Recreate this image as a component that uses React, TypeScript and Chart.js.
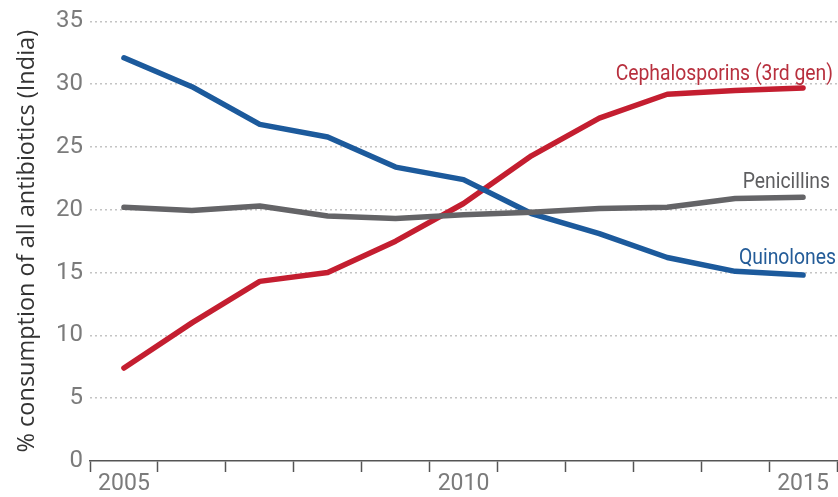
import { useEffect, useRef } from "react";
import { Chart, registerables } from "chart.js";

Chart.register(...registerables);

const years = ["2005", "2006", "2007", "2008", "2009", "2010", "2011", "2012", "2013", "2014", "2015"];
const labeledYears = ["2005", "2010", "2015"];
const quinolones = [32.1, 29.8, 26.8, 25.8, 23.4, 22.4, 19.7, 18.1, 16.2, 15.1, 14.8];
const cephalosporins = [7.4, 11.0, 14.3, 15.0, 17.5, 20.5, 24.3, 27.3, 29.2, 29.5, 29.7];
const penicillins = [20.2, 19.95, 20.3, 19.5, 19.3, 19.6, 19.8, 20.1, 20.2, 20.9, 21.0];
const seriesNames = ["Quinolones", "Cephalosporins (3rd gen)", "Penicillins"];
const yMin = 0;
const yMax = 35;
const yStep = 5;
const yTitle = "% consumption of all antibiotics (India)";

const BLUE = "#1c5a9c";
const RED = "#c41e30";
const GRAY = "#646467";
const LABEL_FONT = "'Roboto', sans-serif";

const endLabels = {
  id: "endLabels",
  afterDatasetsDraw(chart: any) {
    const ctx = chart.ctx;
    const x = chart.scales.x;
    const y = chart.scales.y;
    const lastIdx = years.length - 1;
    const px = x.getPixelForValue(lastIdx);
    const items = [
      { text: seriesNames[1], color: "#b8303e", v: cephalosporins[lastIdx], dy: -8, dx: 30 },
      { text: seriesNames[2], color: "#5e5e60", v: penicillins[lastIdx], dy: -9, dx: 27 },
      { text: seriesNames[0], color: "#245c98", v: quinolones[lastIdx], dy: -11, dx: 33 },
    ];
    const sx = 0.9;
    ctx.save();
    ctx.font = `21.5px ${LABEL_FONT}`;
    ctx.textAlign = "right";
    ctx.textBaseline = "alphabetic";
    for (const it of items) {
      ctx.save();
      ctx.translate(px + it.dx, y.getPixelForValue(it.v) + it.dy);
      ctx.scale(sx, 1);
      ctx.fillStyle = it.color;
      ctx.fillText(it.text, 0, 0);
      ctx.restore();
    }
    ctx.restore();
  },
};

export default function App() {
  const ref = useRef<HTMLCanvasElement | null>(null);
  useEffect(() => {
    document.body.style.margin = "0";
    const canvas = ref.current;
    if (!canvas) return;
    const line = (label: string, data: number[], color: string) => ({
      label,
      data,
      borderColor: color,
      backgroundColor: color,
      borderWidth: 5.5,
      pointRadius: 0,
      tension: 0,
      borderCapStyle: "round" as const,
      borderJoinStyle: "round" as const,
    });
    const chart = new Chart(canvas, {
      type: "line",
      data: {
        labels: years,
        datasets: [
          line(seriesNames[2], penicillins, GRAY),
          line(seriesNames[0], quinolones, BLUE),
          line(seriesNames[1], cephalosporins, RED),
        ],
      },
      options: {
        animation: false,
        responsive: false,
        maintainAspectRatio: false,
        layout: { padding: { top: 20, right: 1, left: 0, bottom: 0 } },
        plugins: { legend: { display: false }, tooltip: { enabled: false } },
        scales: {
          x: {
            type: "category",
            offset: true,
            grid: {
              offset: true,
              drawOnChartArea: false,
              drawTicks: true,
              tickLength: 11,
              tickColor: "#555",
              tickWidth: 1.5,
            },
            border: { display: true, color: "#555", width: 1.5 },
            ticks: {
              autoSkip: false,
              maxRotation: 0,
              minRotation: 0,
              padding: -2,
              color: "#7b7b7b",
              font: { family: LABEL_FONT, size: 23 },
              callback: (_v: any, i: number) => (labeledYears.includes(years[i]) ? years[i] : ""),
            },
            afterFit: (s: any) => {
              s.height = 36;
            },
          },
          y: {
            min: yMin,
            max: yMax,
            grid: {
              drawTicks: false,
              color: (c: any) => (c.tick && c.tick.value === 0 ? "rgba(0,0,0,0)" : "#c4c4c4"),
              lineWidth: 1.5,
            },
            border: { display: false, dash: [2, 3] },
            ticks: {
              stepSize: yStep,
              padding: 7,
              color: "#7b7b7b",
              font: { family: LABEL_FONT, size: 24 },
            },
            title: {
              display: true,
              text: yTitle,
              color: "#333",
              font: { family: "'Open Sans', sans-serif", size: 23.5, lineHeight: 1.2 },
              padding: { top: 13, bottom: 0 },
            },
            afterFit: (s: any) => {
              s.width = 90;
            },
          },
        },
      },
      plugins: [endLabels],
    });
    return () => chart.destroy();
  }, []);
  return (
    <div style={{ position: "absolute", left: 0, top: 0, width: 838, height: 497, background: "#fff" }}>
      <canvas ref={ref} width={838} height={497} style={{ width: 838, height: 497 }} />
    </div>
  );
}
